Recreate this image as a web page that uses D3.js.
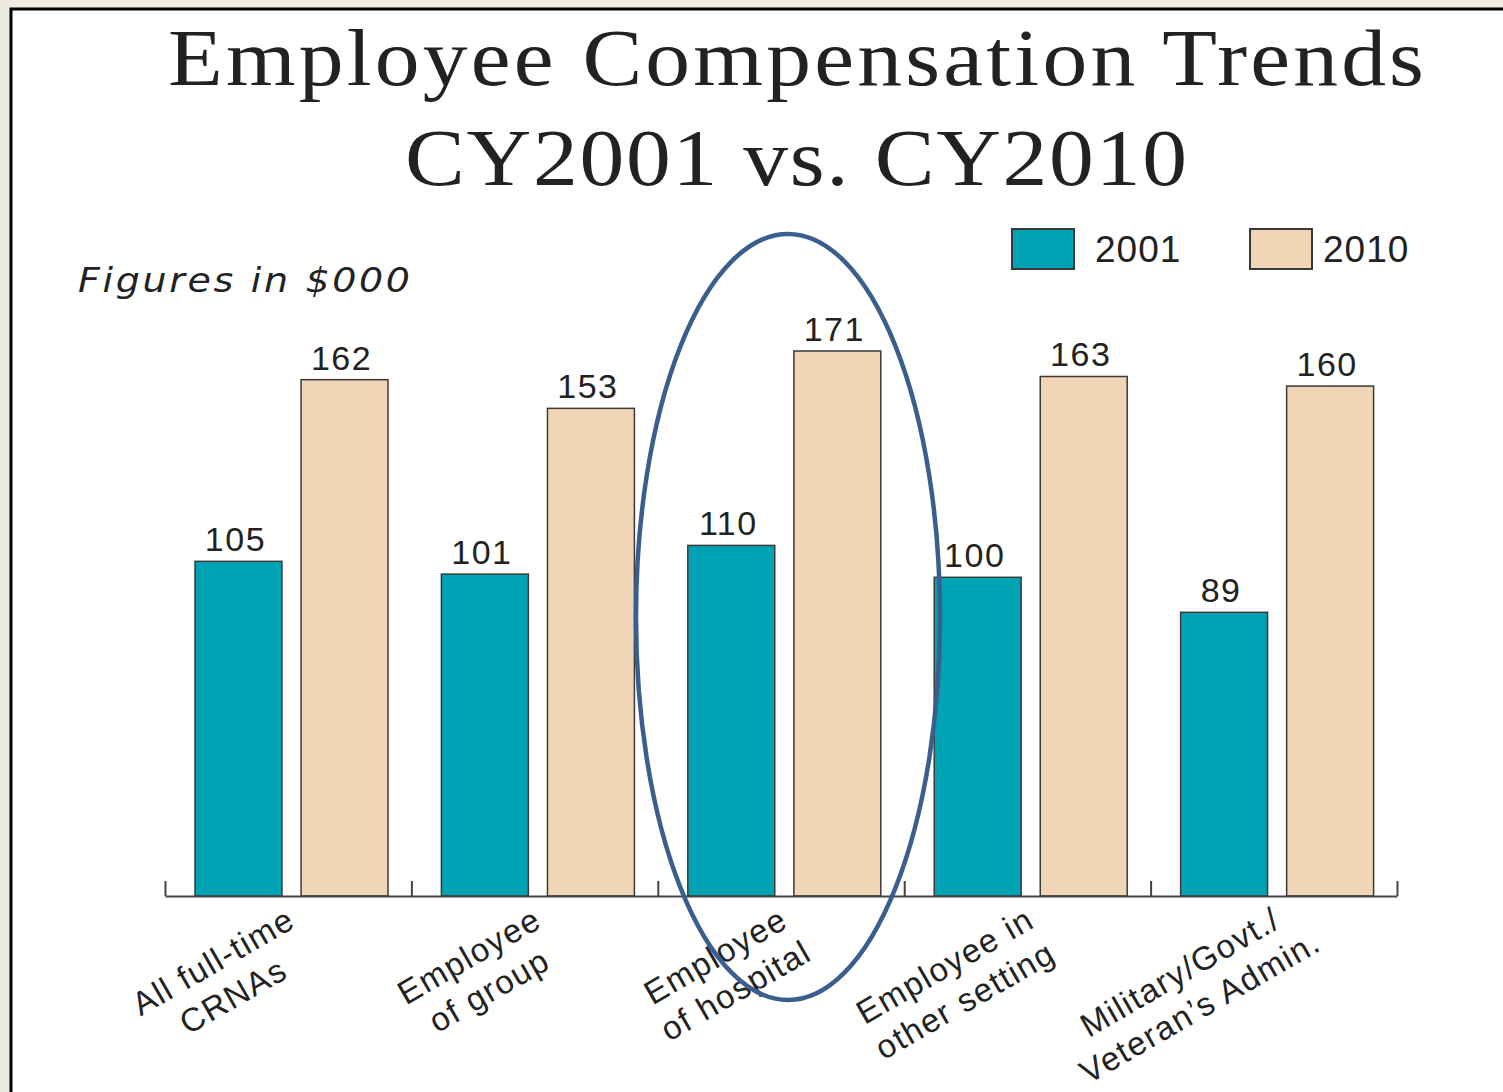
<!DOCTYPE html>
<html>
<head>
<meta charset="utf-8">
<script src="https://cdn.jsdelivr.net/npm/d3@7"></script>
<style>
  body { margin: 0; background: #edeae0; }
  svg { display: block; }
</style>
</head>
<body>
<div id="chart"></div>
<script>
var categories = [
    ["All full-time", "CRNAs"],
    ["Employee", "of group"],
    ["Employee", "of hospital"],
    ["Employee in", "other setting"],
    ["Military/Govt./", "Veteran\u2019s Admin."]
];
var seriesNames = ["2001", "2010"];
var values2001 = [105, 101, 110, 100, 89];
var values2010 = [162, 153, 171, 163, 160];
var colors = ["#00a3b3", "#f0d5b6"];

var fullWidth = 1503;
var fullHeight = 1092;

var svg = d3.select("#chart").append("svg")
    .attr("width", fullWidth)
    .attr("height", fullHeight);

// panel with black frame (top/left edges visible)
svg.append("rect")
    .attr("x", 11).attr("y", 9)
    .attr("width", fullWidth + 20).attr("height", fullHeight + 20)
    .attr("fill", "#fff")
    .attr("stroke", "#000")
    .attr("stroke-width", 3);

// title (slightly widened serif)
var sx = 1.12;
var title = svg.append("g").attr("fill", "#222")
    .attr("transform", "scale(" + sx + ",1)")
    .style("font-family", "'Liberation Serif', 'Times New Roman', serif");
title.append("text")
    .attr("x", 796 / sx).attr("y", 85)
    .attr("text-anchor", "middle")
    .attr("textLength", 1256 / sx).attr("lengthAdjust", "spacing")
    .style("font-size", "80px")
    .text("Employee Compensation Trends");
title.append("text")
    .attr("x", 796 / sx).attr("y", 185)
    .attr("text-anchor", "middle")
    .attr("textLength", 782 / sx).attr("lengthAdjust", "spacing")
    .style("font-size", "80px")
    .text("CY2001 vs. CY2010");

var sf = 1.15;
svg.append("g")
    .attr("transform", "scale(" + sf + ",1)")
    .append("text")
    .attr("x", 78 / sf).attr("y", 292)
    .attr("textLength", 332 / sf).attr("lengthAdjust", "spacing")
    .style("font-family", "'DejaVu Sans', Verdana, sans-serif")
    .style("font-style", "italic")
    .style("font-size", "33px")
    .attr("fill", "#222")
    .text("Figures in $000");

// scales
var baseY = 896;
var rows = categories.map(function (c, i) {
    return { label: c, vals: [values2001[i], values2010[i]] };
});

var x0 = d3.scaleBand()
    .domain(d3.range(categories.length))
    .range([165, 1397])
    .padding(0);

var x1 = d3.scaleBand()
    .domain(seriesNames)
    .range([30, 223])
    .paddingInner(0.18);

var y = d3.scaleLinear()
    .domain([0, 171])
    .range([baseY, 351]);

var chartGroup = svg.append("g");

var groups = chartGroup.selectAll("g.group")
    .data(rows)
    .enter().append("g")
    .attr("class", "group")
    .attr("transform", function (d, i) { return "translate(" + x0(i) + ",0)"; });

var bars = groups.selectAll("g.bar")
    .data(function (d) {
        return d.vals.map(function (v, j) { return { series: seriesNames[j], value: v, j: j }; });
    })
    .enter().append("g").attr("class", "bar");

bars.append("rect")
    .attr("x", function (d) { return x1(d.series); })
    .attr("y", function (d) { return y(d.value); })
    .attr("width", x1.bandwidth())
    .attr("height", function (d) { return baseY - y(d.value); })
    .attr("fill", function (d) { return colors[d.j]; })
    .attr("stroke", "#3a3a3a")
    .attr("stroke-width", 1.5);

bars.append("text")
    .attr("x", function (d) { return x1(d.series) + x1.bandwidth() / 2 - 3; })
    .attr("y", function (d) { return y(d.value) - 10; })
    .attr("text-anchor", "middle")
    .style("font-family", "'Liberation Sans', Arial, sans-serif")
    .style("font-size", "34px")
    .style("letter-spacing", "1.5px")
    .attr("fill", "#222")
    .text(function (d) { return d.value; });

// axis with upward ticks at group boundaries
var xEdge = d3.scaleLinear().domain([0, categories.length]).range(x0.range());
var xAxis = d3.axisTop(xEdge)
    .ticks(categories.length)
    .tickSizeInner(15)
    .tickSizeOuter(0)
    .tickFormat("");

var axisG = chartGroup.append("g")
    .attr("transform", "translate(0," + baseY + ")")
    .call(xAxis);
axisG.selectAll("path, line").attr("stroke", "#444").attr("stroke-width", 2);

// rotated category labels: first line ends near the group centre,
// second line centred under the first
var catLabels = chartGroup.selectAll("g.cat")
    .data(rows)
    .enter().append("g")
    .attr("class", "cat")
    .attr("transform", function (d, i) {
        return "translate(" + (x0(i) + x0.bandwidth() / 2 + 9) + ",926) rotate(-30)";
    });
catLabels.each(function (d) {
    var g = d3.select(this);
    var first = g.append("text")
        .attr("x", 0).attr("y", 0)
        .attr("text-anchor", "end")
        .style("font-family", "'Liberation Sans', Arial, sans-serif")
        .style("font-size", "33px")
        .style("letter-spacing", "1.5px")
        .attr("fill", "#222")
        .text(d.label[0]);
    var len = first.node().getComputedTextLength();
    g.append("text")
        .attr("x", -len / 2).attr("y", 40)
        .attr("text-anchor", "middle")
        .style("font-family", "'Liberation Sans', Arial, sans-serif")
        .style("font-size", "33px")
        .style("letter-spacing", "1.5px")
        .attr("fill", "#222")
        .text(d.label[1]);
});

// legend
var legend = svg.append("g");
var legendX = [1012, 1250];
seriesNames.forEach(function (s, j) {
    legend.append("rect")
        .attr("x", legendX[j]).attr("y", 229)
        .attr("width", 62).attr("height", 40)
        .attr("fill", colors[j])
        .attr("stroke", "#3a3a3a").attr("stroke-width", 2);
    legend.append("text")
        .attr("x", legendX[j] + 83 - j * 10).attr("y", 262)
        .style("font-family", "'Liberation Sans', Arial, sans-serif")
        .style("font-size", "37px")
        .style("letter-spacing", "1px")
        .attr("fill", "#222")
        .text(s);
});

// highlight ellipse around "Employee of hospital"
chartGroup.append("ellipse")
    .attr("cx", x0(2) + x0.bandwidth() / 2 + 7)
    .attr("cy", 617)
    .attr("rx", 152)
    .attr("ry", 383)
    .attr("fill", "none")
    .attr("stroke", "#3a5f8e")
    .attr("stroke-width", 4.5);
</script>
</body>
</html>
